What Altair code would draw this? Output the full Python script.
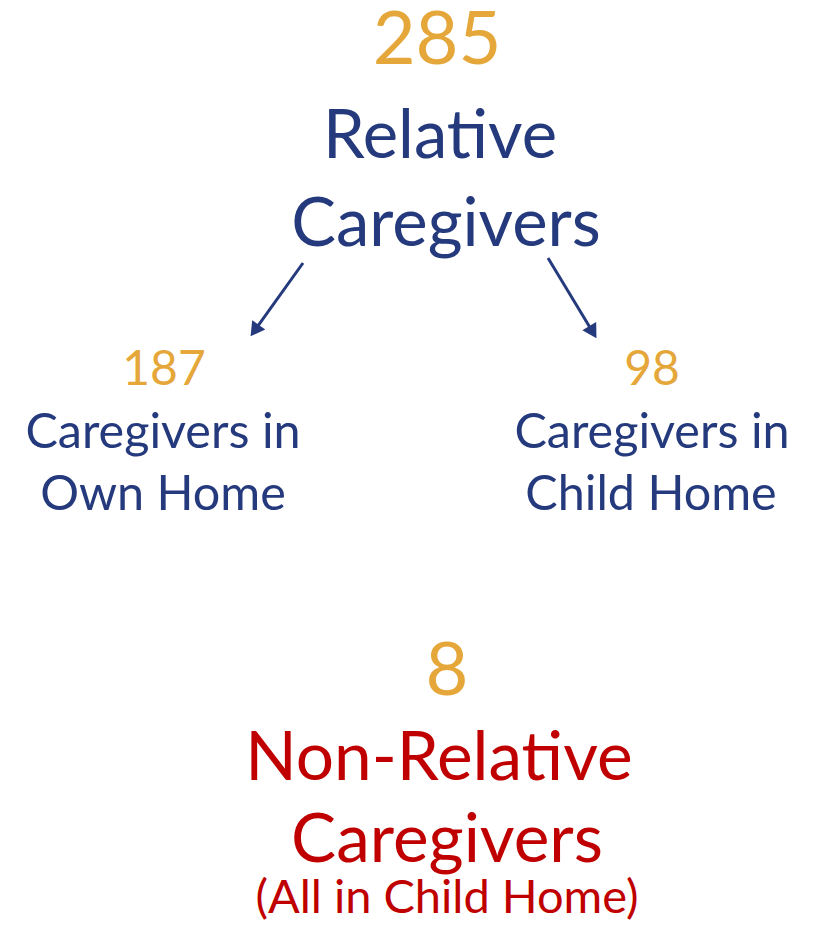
import math
import altair as alt
import pandas as pd

# ---- data values ----
counts = [285, 187, 98, 8]
count_labels = [str(c) for c in counts]
relative_title = ["Relative", "Caregivers"]
own_home = ["Caregivers in", "Own Home"]
child_home = ["Caregivers in", "Child Home"]
nonrel_title = ["Non-Relative", "Caregivers"]
nonrel_note = ["(All in Child Home)"]

# ---- styles ----
GOLD = "#E5A73A"
NAVY = "#253A7D"
RED = "#C00000"
FONT = "Lato"

# ---- layout (page pixel coordinates: x centre, y baseline) ----
texts = [
    (count_labels[0], 437, 64, 74, GOLD),
    (relative_title[0], 440, 158, 67, NAVY),
    (relative_title[1], 446, 246, 67, NAVY),
    (count_labels[1], 164, 385, 48, GOLD),
    (own_home[0], 163, 448, 48.5, NAVY),
    (own_home[1], 163, 510, 48.5, NAVY),
    (count_labels[2], 652, 385, 48, GOLD),
    (child_home[0], 652, 448, 48.5, NAVY),
    (child_home[1], 651, 510, 48.5, NAVY),
    (count_labels[3], 447, 695, 74, GOLD),
    (nonrel_title[0], 439, 780, 67.5, RED),
    (nonrel_title[1], 447, 862, 67.5, RED),
    (nonrel_note[0], 447, 913, 47, RED),
]
text_df = pd.DataFrame(texts, columns=["label", "x", "y", "size", "color"])

arrows = [((303, 263), (250, 337)), ((548, 258), (597, 339))]
head_len = 16
rows_line, rows_head = [], []
for (x0, y0), (x1, y1) in arrows:
    dx, dy = x1 - x0, y1 - y0
    L = math.hypot(dx, dy)
    ux, uy = dx / L, dy / L
    rows_line.append({"x": x0, "y": y0, "x2": x1 - ux * head_len * 0.7, "y2": y1 - uy * head_len * 0.7})
    ang = math.degrees(math.atan2(ux, -uy)) % 360
    cx, cy = x1 - ux * head_len * 0.5, y1 - uy * head_len * 0.5
    rows_head.append({"x": cx, "y": cy, "angle": ang})
line_df = pd.DataFrame(rows_line)
head_df = pd.DataFrame(rows_head)

W, H = 804, 915
xs = alt.Scale(domain=[8, 8 + W], nice=False, zero=False)
ys = alt.Scale(domain=[8, 8 + H], nice=False, zero=False, reverse=True)

text_layer = alt.Chart(text_df).mark_text(
    font=FONT, align="center", baseline="alphabetic"
).encode(
    x=alt.X("x:Q", scale=xs, axis=None),
    y=alt.Y("y:Q", scale=ys, axis=None),
    text="label:N",
    size=alt.Size("size:Q", scale=None, legend=None),
    color=alt.Color("color:N", scale=None, legend=None),
)

line_layer = alt.Chart(line_df).mark_rule(color=NAVY, strokeWidth=3).encode(
    x=alt.X("x:Q", scale=xs, axis=None),
    y=alt.Y("y:Q", scale=ys, axis=None),
    x2="x2:Q",
    y2="y2:Q",
)

head_layer = alt.Chart(head_df).mark_point(
    shape="triangle-up", filled=True, color=NAVY, opacity=1, size=260
).encode(
    x=alt.X("x:Q", scale=xs, axis=None),
    y=alt.Y("y:Q", scale=ys, axis=None),
    angle=alt.Angle("angle:Q", scale=None),
)

chart = (
    alt.layer(line_layer, head_layer, text_layer)
    .properties(width=W, height=H, padding=0, autosize="none", background="white")
    .configure_view(stroke=None, strokeWidth=0)
)

chart.save("out.html", embed_options={"renderer": "svg", "actions": False})
